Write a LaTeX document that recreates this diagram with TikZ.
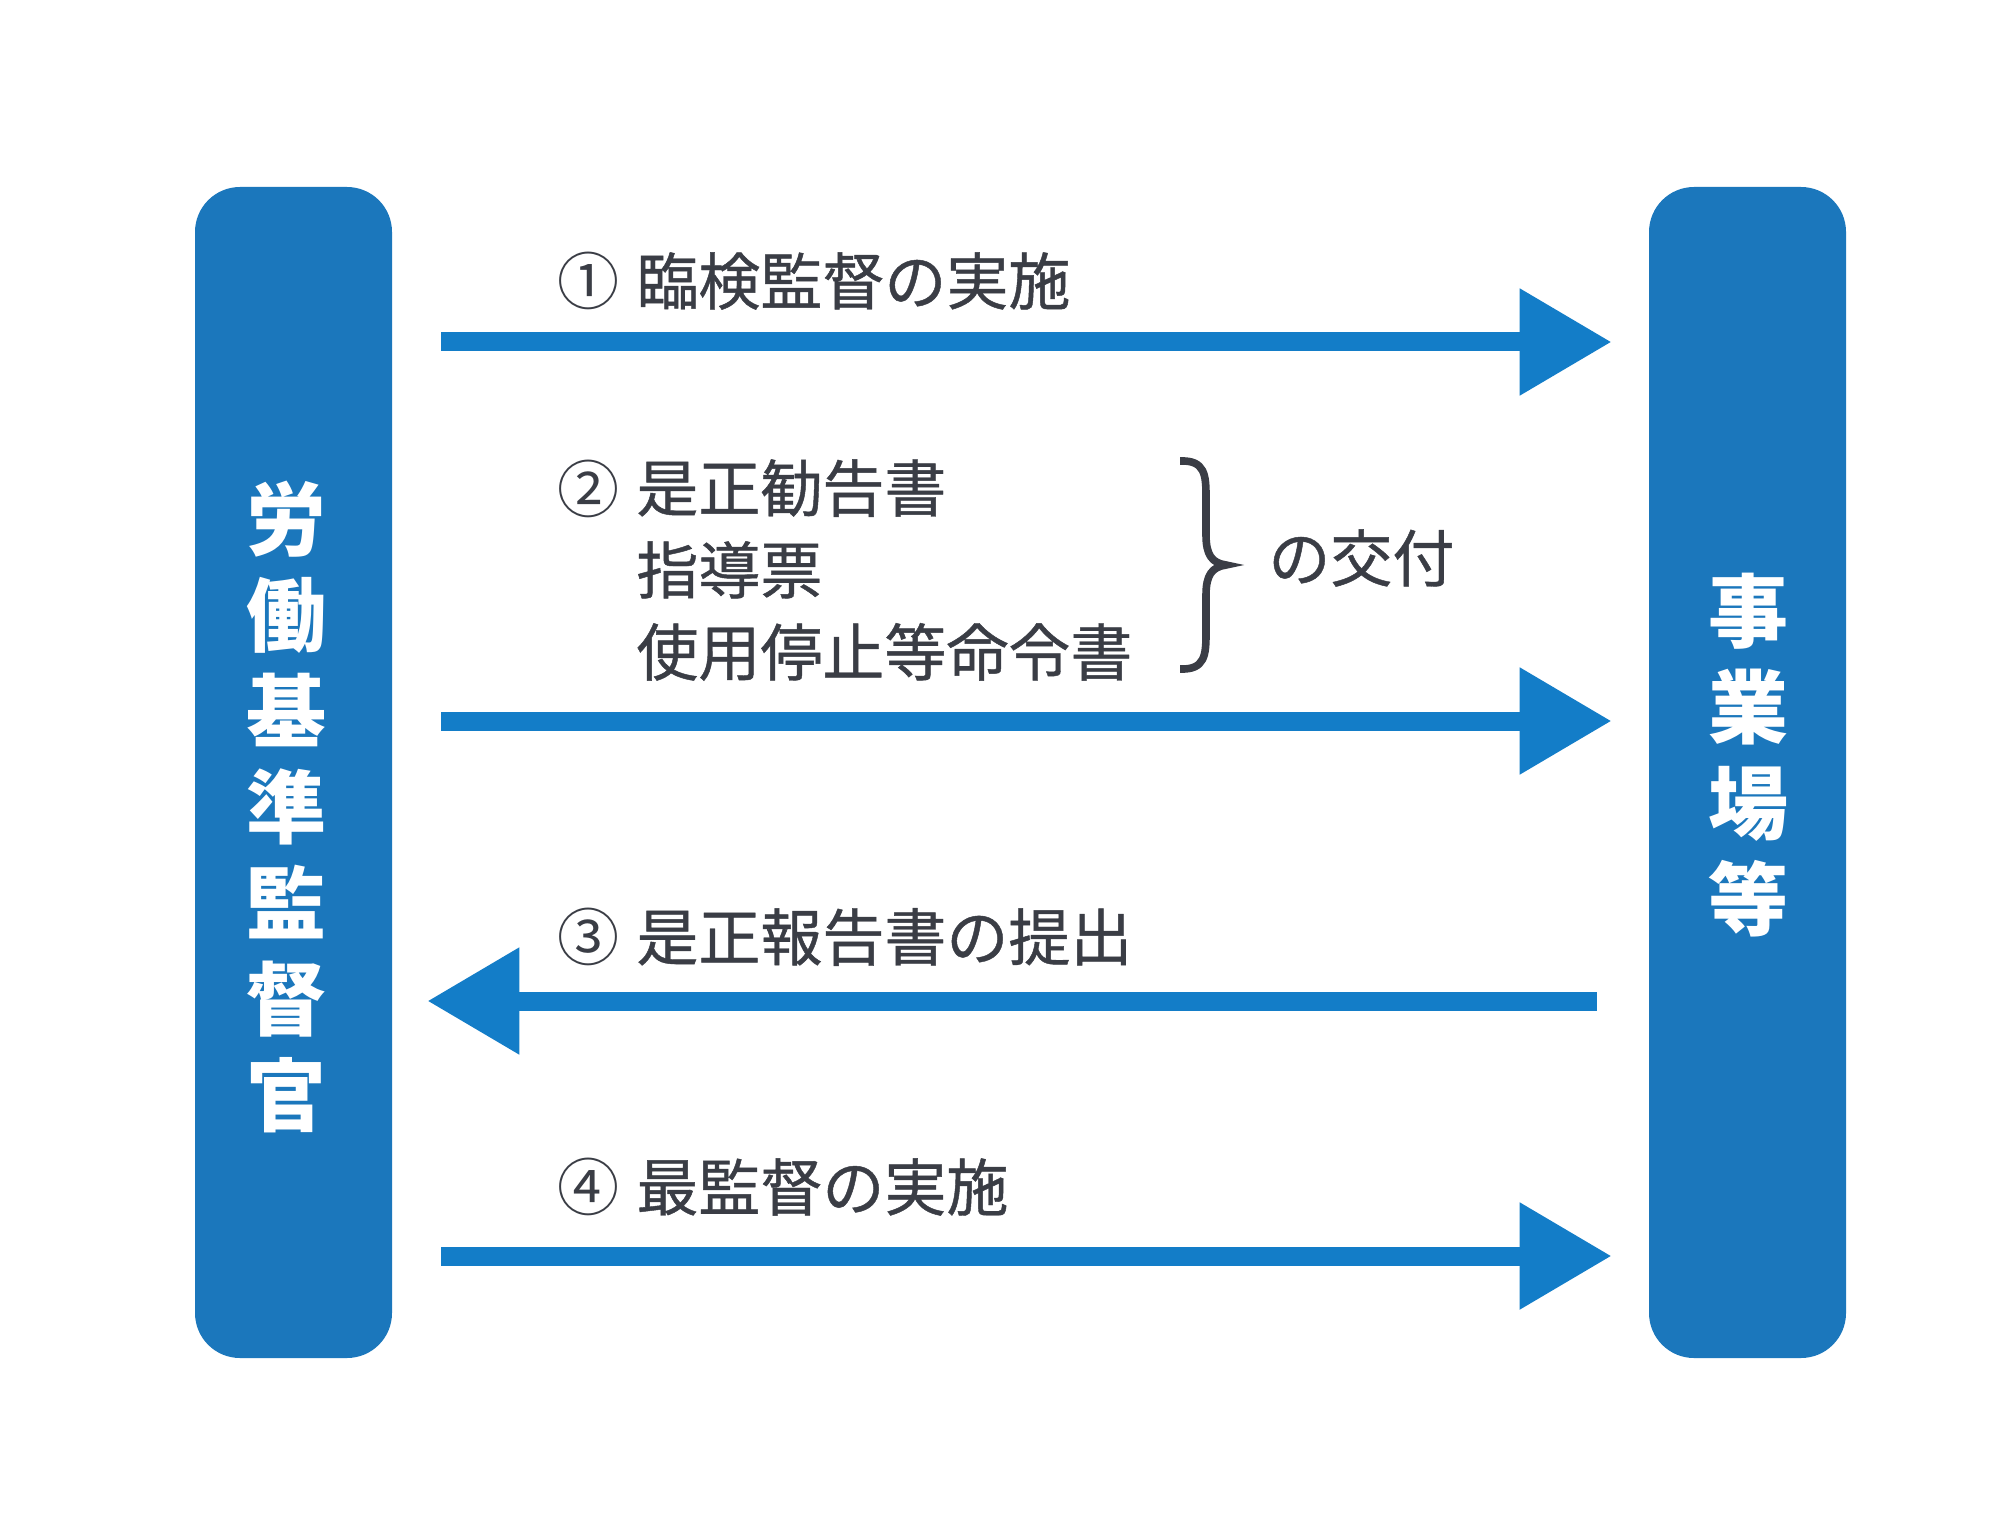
\documentclass[tikz,border=0pt]{standalone}
\usepackage{fontspec}
\usetikzlibrary{arrows.meta}
\newfontfamily\jp{Noto Sans CJK JP}
\newfontfamily\jpm[FakeBold=0.7]{Noto Sans CJK JP}
\definecolor{boxblue}{HTML}{1B77BC}
\definecolor{arrblue}{HTML}{137DC8}
\definecolor{txtgray}{HTML}{3A3D45}
\begin{document}
\begin{tikzpicture}[x=0.5pt,y=-0.5pt,
  bar/.style={fill=boxblue, rounded corners=22.5pt, minimum width=98.5pt, minimum height=585.5pt, inner sep=0pt},
  vtext/.style={text=white, font=\jp\bfseries\fontsize{40pt}{48pt}\selectfont, align=center, inner sep=0pt},
  lbl/.style={text=txtgray, font=\jpm\fontsize{31pt}{41pt}\selectfont, inner sep=0pt, anchor=west, align=left},
  num/.style={text=txtgray, font=\jp\fontsize{31pt}{41pt}\selectfont, inner sep=0pt},
  flow/.style={draw=arrblue, line width=9.5pt, -{Triangle[length=46pt,width=51pt]}}
]
\useasboundingbox[fill=white] (0,0) rectangle (2000,1519);
\node[bar] (L) at (293.5,772.5) {};
\node[bar] (R) at (1747.5,772.5) {};
\node[vtext] (Lt) at (286,807) {労\\働\\基\\準\\監\\督\\官};
\node[vtext] (Rt) at (1748,755) {事\\業\\場\\等};

\coordinate (y1) at (0,342);
\coordinate (y2) at (0,721);
\coordinate (y3) at (0,1001);
\coordinate (y4) at (0,1256);
\draw[flow, shorten <=24.5pt, shorten >=18.5pt] (L.east |- y1) -- (R.west |- y1);
\draw[flow, shorten <=24.5pt, shorten >=18.5pt] (L.east |- y2) -- (R.west |- y2);
\draw[flow, shorten <=26pt, shorten >=17.5pt] (R.west |- y3) -- (L.east |- y3);
\draw[flow, shorten <=24.5pt, shorten >=18.5pt] (L.east |- y4) -- (R.west |- y4);

\node[num] (c1) at (588,281) {①};
\node[lbl] (t1) at (636,281) {臨検監督の実施};
\node[num] (c2) at (588,489) {②};
\node[lbl] (t2) at (636,570) {是正勧告書\\指導票\\使用停止等命令書};
\node[lbl] (t2b) at (1268,558) {の交付};
\node[num] (c3) at (588,937) {③};
\node[lbl] (t3) at (636,937) {是正報告書の提出};
\node[num] (c4) at (588,1187) {④};
\node[lbl] (t4) at (636,1187) {最監督の実施};

\draw[txtgray, line width=3.8pt]
  (1180,461) .. controls (1205,460) and (1206,475) .. (1206,497) -- (1206,535)
  .. controls (1206,555) and (1212,563) .. (1226,565)
  .. controls (1212,567) and (1206,575) .. (1206,595) -- (1206,633)
  .. controls (1206,655) and (1205,670) .. (1180,669);
\end{tikzpicture}
\end{document}
